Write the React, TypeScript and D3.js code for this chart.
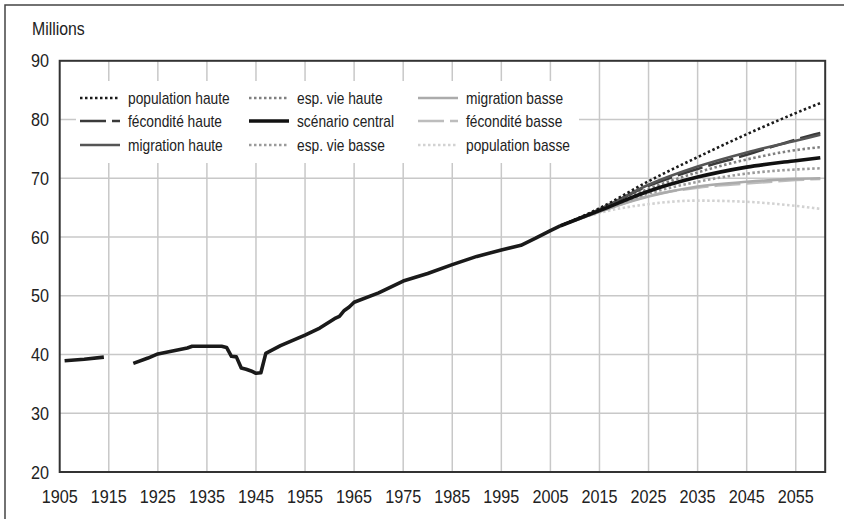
import React from 'react';
import * as d3 from 'd3';

// Historical population (metropolitan France, millions), null = no data (WWI gap)
const histYears = [1906, 1910, 1914, 1915, 1920, 1923, 1925, 1928, 1931, 1932, 1938, 1939, 1940, 1941, 1942, 1943, 1944, 1945, 1946, 1947, 1950, 1955, 1958, 1961, 1962, 1963, 1964, 1965, 1970, 1975, 1980, 1985, 1990, 1995, 1999, 2002, 2005, 2007];
const histValues = [38.95, 39.2, 39.55, null, 38.5, 39.4, 40.1, 40.6, 41.1, 41.4, 41.4, 41.2, 39.7, 39.6, 37.7, 37.5, 37.2, 36.8, 36.9, 40.2, 41.5, 43.3, 44.5, 46.1, 46.5, 47.5, 48.1, 48.9, 50.5, 52.5, 53.8, 55.3, 56.7, 57.8, 58.6, 59.8, 61.1, 61.9];

// Projections
const projYears = [2007, 2015, 2025, 2035, 2045, 2055, 2060];
const popHaute = [61.9, 64.9, 69.5, 73.6, 77.5, 81.1, 82.8];
const fecHaute = [61.9, 64.7, 68.7, 71.6, 74.0, 76.6, 77.7];
const migHaute = [61.9, 64.7, 68.9, 72.0, 74.4, 76.4, 77.4];
const espHaute = [61.9, 64.6, 68.2, 71.0, 73.2, 74.8, 75.3];
const central = [61.9, 64.5, 67.8, 70.2, 71.9, 73.0, 73.5];
const espBasse = [61.9, 64.4, 67.4, 69.4, 70.8, 71.5, 71.7];
const migBasse = [61.9, 64.3, 66.9, 68.6, 69.4, 69.9, 70.0];
const fecBasse = [61.9, 64.3, 67.0, 68.4, 69.1, 69.7, 69.9];
const popBasse = [61.9, 64.1, 65.6, 66.2, 66.0, 65.3, 64.8];

const xTicks = [1905, 1915, 1925, 1935, 1945, 1955, 1965, 1975, 1985, 1995, 2005, 2015, 2025, 2035, 2045, 2055];
const yTicks = [20, 30, 40, 50, 60, 70, 80, 90];

const series = [
  { name: 'population haute', values: popHaute, color: '#1a1a1a', width: 2.6, dash: '2.5,2.5', col: 0, row: 0 },
  { name: 'fécondité haute', values: fecHaute, color: '#3a3a3a', width: 2.6, dash: '26,6', col: 0, row: 1 },
  { name: 'migration haute', values: migHaute, color: '#555555', width: 2.6, dash: null, col: 0, row: 2 },
  { name: 'esp. vie haute', values: espHaute, color: '#808080', width: 2.6, dash: '2.5,2.5', col: 1, row: 0 },
  { name: 'scénario central', values: central, color: '#111111', width: 3.6, dash: null, col: 1, row: 1 },
  { name: 'esp. vie basse', values: espBasse, color: '#9a9a9a', width: 2.6, dash: '2.5,2.5', col: 1, row: 2 },
  { name: 'migration basse', values: migBasse, color: '#ababab', width: 2.6, dash: null, col: 2, row: 0 },
  { name: 'fécondité basse', values: fecBasse, color: '#bdbdbd', width: 2.6, dash: '26,6', col: 2, row: 1 },
  { name: 'population basse', values: popBasse, color: '#d2d2d2', width: 2.6, dash: '2.5,2.5', col: 2, row: 2 },
];

const W = 844;
const H = 519;
const font = "'Liberation Sans', Arial, sans-serif";

// condensed look: squeeze text horizontally around its anchor
const Label = ({ x, y, size, sx, anchor = 'start', children }: any) => (
  <text
    transform={`translate(${x},${y}) scale(${sx},1)`}
    fontSize={size}
    textAnchor={anchor}
    fill="#222"
  >
    {children}
  </text>
);

const App = () => {
  const x = d3.scaleLinear().domain([1905, 2061]).range([59.7, 825.2]);
  const y = d3.scaleLinear().domain([20, 90]).range([472, 60.8]);

  const histLine = d3
    .line<number | null>()
    .defined((d) => d !== null)
    .x((d, i) => x(histYears[i]))
    .y((d) => y(d as number));

  const projLine = d3
    .line<number>()
    .x((d, i) => x(projYears[i]))
    .y((d) => y(d))
    .curve(d3.curveMonotoneX);

  const legendCols = [80, 249, 418];
  const legendRows = [98, 121, 145];

  // lighter / dashed scenarios first so solid and darker ones sit on top
  const drawOrder = [8, 7, 6, 5, 3, 1, 2, 0, 4];

  return (
    <svg width={W} height={H} style={{ position: 'absolute', left: 0, top: 0, background: '#fff' }} fontFamily={font}>
      {/* outer frame */}
      <path d={`M5,${H + 10} V5 H${W + 10}`} fill="none" stroke="#444" strokeWidth={1.5} />

      <Label x={32} y={35} size={18} sx={0.88}>Millions</Label>

      {/* grid */}
      {yTicks.slice(1, -1).map((t) => (
        <line key={'h' + t} x1={x.range()[0]} x2={x.range()[1]} y1={y(t)} y2={y(t)} stroke="#c8c8c8" strokeWidth={1.5} />
      ))}
      {xTicks.slice(1).map((t) => (
        <line key={'v' + t} x1={x(t)} x2={x(t)} y1={y(90)} y2={y(20)} stroke="#c8c8c8" strokeWidth={1.5} />
      ))}

      {/* legend background */}
      <rect x={76} y={81} width={503} height={82} fill="#fff" />

      {/* y labels */}
      {yTicks.map((t) => (
        <Label key={'yl' + t} x={49} y={y(t) + 6.5} size={18} sx={0.9} anchor="end">{t}</Label>
      ))}
      {/* x labels */}
      {xTicks.map((t) => (
        <Label key={'xl' + t} x={x(t)} y={503} size={18} sx={0.9} anchor="middle">{t}</Label>
      ))}

      {/* projections */}
      {drawOrder.map((i) => {
        const s = series[i];
        return (
          <path
            key={s.name}
            d={projLine(s.values) || ''}
            fill="none"
            stroke={s.color}
            strokeWidth={s.width}
            strokeDasharray={s.dash || undefined}
          />
        );
      })}

      {/* history */}
      <path d={histLine(histValues) || ''} fill="none" stroke="#1a1a1a" strokeWidth={3.6} strokeLinejoin="round" />

      {/* plot frame */}
      <rect x={x.range()[0]} y={y(90)} width={x.range()[1] - x.range()[0]} height={y(20) - y(90)} fill="none" stroke="#333" strokeWidth={2} />

      {/* legend */}
      {series.map((s) => (
        <g key={'lg' + s.name}>
          <line
            x1={legendCols[s.col]}
            x2={legendCols[s.col] + 40}
            y1={legendRows[s.row]}
            y2={legendRows[s.row]}
            stroke={s.color}
            strokeWidth={s.width}
            strokeDasharray={s.dash || undefined}
          />
          <Label x={legendCols[s.col] + 48} y={legendRows[s.row] + 6} size={16} sx={0.86}>{s.name}</Label>
        </g>
      ))}
    </svg>
  );
};

export default App;
